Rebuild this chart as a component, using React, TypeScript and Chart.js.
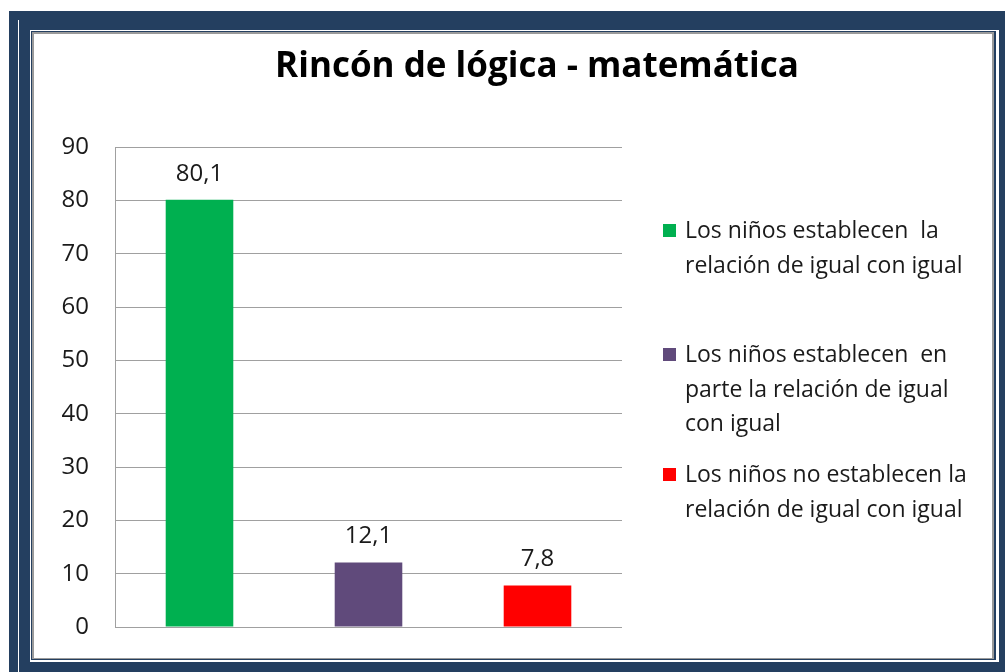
import React, { useEffect, useRef } from "react";
import { Chart, registerables } from "chart.js";

Chart.register(...registerables);

const TITLE = "Rincón de lógica - matemática";
const categories: string[][] = [
  ["Los niños establecen  la", "relación de igual con igual"],
  ["Los niños establecen  en", "parte la relación de igual", "con igual"],
  ["Los niños no establecen la", "relación de igual con igual"],
];
const values = [80.1, 12.1, 7.8];
const colors = ["#00B050", "#604A7B", "#FF0000"];
const Y_MIN = 0;
const Y_MAX = 90;
const Y_STEP = 10;

const FONT = "'Open Sans', Lato, sans-serif";
const NAVY = "#243F60";
const TEXT = "#1a1a1a";

const framePlugin = {
  id: "frame",
  beforeDraw(chart: any) {
    const ctx = chart.ctx;
    ctx.save();
    ctx.fillStyle = "#ffffff";
    ctx.fillRect(0, 0, chart.width, chart.height);
    ctx.fillStyle = NAVY;
    ctx.fillRect(9, 11, chart.width - 9, chart.height - 11);
    ctx.fillStyle = "#ffffff";
    ctx.fillRect(18, 20, 1, chart.height - 20);
    ctx.fillRect(30, 30, 969, 632);
    ctx.fillStyle = NAVY;
    ctx.fillRect(31, 31, 965, 629);
    ctx.fillStyle = "#9a9a9a";
    ctx.fillRect(32, 32, 962, 627);
    ctx.fillStyle = "#ffffff";
    ctx.fillRect(34, 34, 958, 624);
    ctx.restore();
  },
  afterDatasetsDraw(chart: any) {
    const ctx = chart.ctx;
    const meta = chart.getDatasetMeta(0);
    ctx.save();
    ctx.fillStyle = TEXT;
    ctx.font = `24px ${FONT}`;
    ctx.textAlign = "center";
    ctx.textBaseline = "alphabetic";
    meta.data.forEach((bar: any, i: number) => {
      const txt = values[i].toFixed(1).replace(".", ",");
      ctx.fillText(txt, bar.x, bar.y - 19);
    });
    ctx.restore();
  },
  afterDraw(chart: any) {
    const ctx = chart.ctx;
    ctx.save();
    // title
    ctx.fillStyle = "#000000";
    ctx.font = `bold 35px ${FONT}`;
    ctx.textAlign = "center";
    ctx.textBaseline = "alphabetic";
    ctx.fillText(TITLE, 537, 77);
    // legend
    const baselines = [238, 362, 482];
    const lineH = 34.5;
    ctx.font = `23px ${FONT}`;
    ctx.textAlign = "left";
    categories.forEach((lines, i) => {
      ctx.fillStyle = colors[i];
      ctx.fillRect(663, baselines[i] - 14, 13, 13);
      ctx.fillStyle = TEXT;
      lines.forEach((ln, j) => {
        ctx.fillText(ln, 685, baselines[i] + j * lineH);
      });
    });
    ctx.restore();
  },
};

export default function App() {
  const ref = useRef<HTMLCanvasElement | null>(null);
  useEffect(() => {
    if (!ref.current) return;
    const chart = new Chart(ref.current, {
      type: "bar",
      data: {
        labels: categories.map((c) => c.join(" ")),
        datasets: [
          {
            data: values,
            backgroundColor: colors,
            borderWidth: 0,
            barPercentage: 0.4,
            categoryPercentage: 1,
          },
        ],
      },
      options: {
        responsive: false,
        animation: false,
        devicePixelRatio: 1,
        layout: { padding: { left: 55, top: 147, right: 383, bottom: 45 } },
        plugins: {
          legend: { display: false },
          title: { display: false },
          tooltip: { enabled: false },
        },
        scales: {
          x: { display: false },
          y: {
            min: Y_MIN,
            max: Y_MAX,
            afterFit: (s: any) => {
              s.width = 60;
            },
            ticks: {
              stepSize: Y_STEP,
              padding: 26,
              color: TEXT,
              font: { family: FONT, size: 24 },
            },
            grid: { color: "#a0a0a0", drawTicks: false, lineWidth: 1 },
            border: { color: "#a0a0a0", width: 1 },
          },
        },
      },
      plugins: [framePlugin],
    });
    return () => chart.destroy();
  }, []);
  return (
    <canvas
      ref={ref}
      width={1005}
      height={672}
      style={{ position: "fixed", left: 0, top: 0, width: 1005, height: 672 }}
    />
  );
}
